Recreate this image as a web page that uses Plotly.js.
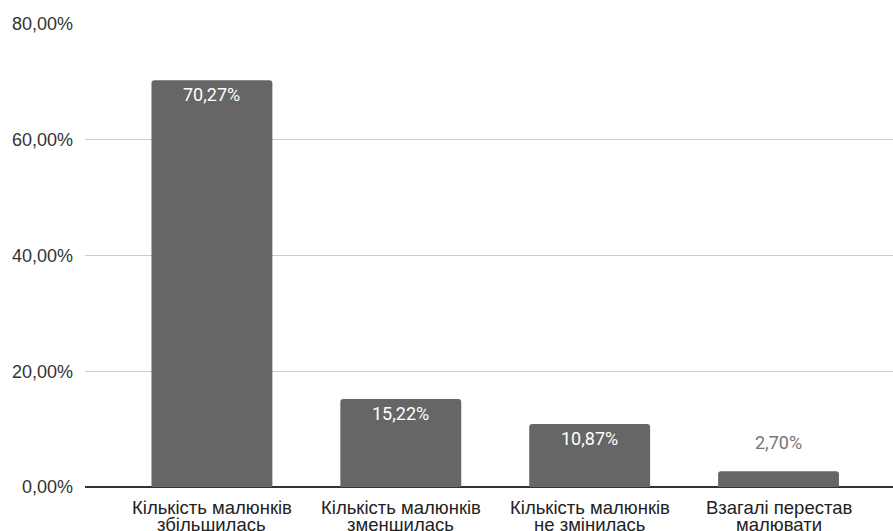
<!DOCTYPE html>
<html>
<head>
<meta charset="utf-8">
<script src="https://cdn.plot.ly/plotly-3.0.1.min.js"></script>
<style>html,body{margin:0;padding:0;background:#fff}#chart{width:893px;height:531px}</style>
</head>
<body>
<div id="chart"></div>
<script>
const categories = [
  "Кількість малюнків|збільшилась",
  "Кількість малюнків|зменшилась",
  "Кількість малюнків|не змінилась",
  "Взагалі перестав|малювати"
];
const values = [70.27, 15.22, 10.87, 2.70];
const labels = ["70,27%", "15,22%", "10,87%", "2,70%"];
const insideFlags = [true, true, true, false];
const yTicks = [0, 20, 40, 60, 80];
const yTickText = ["0,00%", "20,00%", "40,00%", "60,00%", "80,00%"];

const xIdx = categories.map((c, i) => i);

const trace = {
  type: "bar",
  x: xIdx,
  y: values,
  width: 0.64,
  marker: {color: "#666666", cornerradius: 3},
  hoverinfo: "none"
};

const annotations = values.map((v, i) => ({
  x: xIdx[i], y: v, xref: "x", yref: "y",
  text: labels[i], showarrow: false,
  yanchor: insideFlags[i] ? "top" : "bottom",
  yshift: insideFlags[i] ? -2 : 16,
  font: {family: "Roboto, sans-serif", size: 18, color: insideFlags[i] ? "#ffffff" : "#757575"}
}));

categories.forEach((c, i) => {
  c.split("|").forEach((line, j) => {
    annotations.push({
      x: xIdx[i], y: 0, xref: "x", yref: "paper",
      text: line, showarrow: false,
      yanchor: "middle", yshift: -20 - 17 * j,
      font: {family: "Arial, 'Liberation Sans', sans-serif", size: 18.5, color: "#222"}
    });
  });
});

const layout = {
  width: 893, height: 531,
  margin: {l: 85, r: 0, t: 24, b: 44},
  paper_bgcolor: "#fff", plot_bgcolor: "#fff",
  showlegend: false,
  xaxis: {
    range: [-0.672, 3.606],
    showticklabels: false,
    showgrid: false, zeroline: false, showline: false, ticks: "",
    fixedrange: true
  },
  yaxis: {
    range: [0, 80],
    tickmode: "array", tickvals: yTicks, ticktext: yTickText,
    showgrid: true, gridcolor: "#cccccc", gridwidth: 1,
    zeroline: true, zerolinecolor: "#333333", zerolinewidth: 1.3,
    showline: false, ticks: "",
    ticklabelstandoff: 11,
    tickfont: {family: "Arial, 'Liberation Sans', sans-serif", size: 18, color: "#333"},
    fixedrange: true
  },
  annotations: annotations
};

Plotly.newPlot("chart", [trace], layout, {displayModeBar: false, staticPlot: true});
</script>
</body>
</html>
